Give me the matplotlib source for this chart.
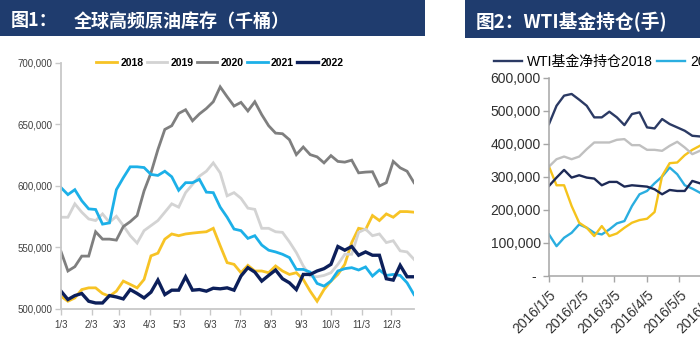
import numpy as np
import pandas as pd
import matplotlib
matplotlib.use('Agg')
import matplotlib.pyplot as plt
from matplotlib.patches import Rectangle
from matplotlib.ticker import FuncFormatter

plt.rcParams['font.family'] = ['Liberation Sans', 'Noto Sans CJK SC', 'DejaVu Sans']

# ---------------- Figure 1: global high-frequency crude stocks (kbbl) ----------------
weeks = pd.date_range('2022-01-03', periods=52, freq='7D')
stock_labels = ['2018', '2019', '2020', '2021', '2022']
stock_2018 = [510400, 506300, 509000, 515800, 517200, 517200, 512600, 510400, 514500, 522700,
              520000, 517200, 524000, 543200, 545400, 556800, 561000, 559600, 561000, 561700,
              562300, 562800, 565600, 551400, 537700, 536300, 529500, 535500, 530900, 530900,
              529500, 535000, 530900, 528100, 529500, 524000, 514500, 506300, 515800, 522700,
              528100, 536300, 554000, 565600, 564500, 576000, 571900, 577300, 574600, 579200,
              579200, 578700]
stock_2019 = [574600, 574600, 585500, 578700, 573200, 571900, 577300, 570500, 575400, 567800,
              559600, 553600, 563700, 567800, 571900, 578700, 585500, 582800, 594600, 601300,
              608000, 612000, 618800, 610700, 592000, 594600, 590000, 582000, 581000, 565600,
              565600, 562800, 562300, 554600, 545900, 535000, 526800, 526200, 527300, 529500,
              536300, 544500, 544500, 562300, 565000, 559600, 561000, 554000, 555500, 547300,
              546400, 540400]
stock_2020 = [546700, 530900, 534400, 543000, 543000, 562800, 556800, 556800, 556000, 567000,
              571000, 576000, 596000, 610700, 629600, 646000, 649000, 659000, 662000, 653000,
              658600, 663000, 668500, 680600, 672600, 665000, 668000, 661000, 668500, 658000,
              649000, 643000, 642500, 637600, 625500, 631700, 625500, 623700, 618800, 624700,
              620000, 619400, 621000, 610700, 611300, 611600, 600000, 602700, 620000, 614800,
              612000, 602700]
stock_2021 = [598700, 593000, 597000, 588000, 581400, 580900, 569000, 570000, 597000, 606700,
              615600, 615600, 615000, 609400, 608600, 612000, 607500, 596500, 602700, 602700,
              605400, 595000, 594600, 582800, 574600, 565000, 563700, 557400, 559600, 552000,
              547800, 546400, 544500, 541800, 532200, 532200, 530000, 520800, 518600, 522700,
              530900, 532800, 533600, 531700, 534200, 526800, 531700, 527300, 528100, 527300,
              521300, 511700]
stock_2022 = [514500, 507700, 510900, 512600, 506300, 504900, 504900, 510900, 509800, 508200,
              515800, 512600, 509000, 513700, 523500, 511700, 515300, 515300, 526200, 515300,
              515800, 514500, 516900, 516400, 517200, 515300, 526800, 533600, 530000, 522700,
              527300, 531700, 524600, 521300, 515800, 528100, 528100, 530900, 532800, 536300,
              550800, 547800, 550800, 543700, 546400, 543700, 543700, 524600, 523500, 535500,
              526200, 526200]
stock_ticks = pd.date_range('2022-01-01', periods=12, freq='MS') + pd.Timedelta(days=2)
stock_tick_labels = ['1/3', '2/3', '3/3', '4/3', '5/3', '6/3', '7/3', '8/3', '9/3', '10/3',
                     '11/3', '12/3']

# ---------------- Figure 2: WTI fund positions (lots) ----------------
cftc_weeks = pd.date_range('2016-01-05', periods=21, freq='7D')
fund_labels = ['WTI基金净持仓2018', '2019', '2020', '2021', '2022']
fund_2018 = [459500, 515000, 545600, 550700, 533500, 515000, 479800, 479800, 497000, 479800,
             456400, 489900, 495000, 449400, 446300, 474700, 459500, 449400, 439200, 424000,
             422000]
fund_2019 = [125000, 89500, 115000, 130000, 155400, 145300, 130000, 125000, 140200, 158500,
             165600, 211200, 246700, 256800, 280100, 300400, 327800, 307500, 274000, 263900,
             251700]
fund_2020 = [330800, 274000, 274000, 211200, 160500, 145300, 120000, 150400, 120000, 128000,
             145300, 160500, 168600, 172600, 193000, 302400, 341000, 343000, 365200, 381400,
             393600]
fund_2021 = [330800, 353000, 361000, 353000, 361000, 383500, 403700, 403700, 403700, 411800,
             413900, 395600, 395600, 381400, 381400, 378400, 393600, 405800, 388500, 368300,
             378400]
fund_2022 = [272000, 297300, 320600, 297300, 304400, 297300, 294300, 274000, 284200, 284200,
             269900, 274000, 272000, 269900, 261800, 246700, 259800, 256800, 256800, 287200,
             280100]
fund_ticks = pd.date_range('2016-01-01', periods=12, freq='MS') + pd.Timedelta(days=4)

W, H = 700, 350
fig = plt.figure(figsize=(7, 3.5), dpi=100)
fig.patch.set_facecolor('white')


def fx(px):
    return px / W


def fy(py):
    return 1 - py / H


# title bars
bar_col = '#1f3c6e'
fig.patches.append(Rectangle((0, fy(36)), fx(425), 36 / H, transform=fig.transFigure,
                             facecolor=bar_col, edgecolor='none', zorder=0))
fig.patches.append(Rectangle((fx(465), fy(38)), fx(235), 38 / H, transform=fig.transFigure,
                             facecolor=bar_col, edgecolor='none', zorder=0))
fig.text(fx(11), fy(21), '图1：', color='white', fontsize=13, fontweight='bold',
         family=['Noto Sans CJK SC'], va='center', ha='left')
fig.text(fx(74), fy(21), '全球高频原油库存（千桶）', color='white', fontsize=13,
         fontweight='bold', family=['Noto Sans CJK SC'], va='center', ha='left')
fig.text(fx(476), fy(22), '图2：WTI基金持仓(手)', color='white', fontsize=13.5,
         fontweight='bold', family=['Noto Sans CJK SC'], va='center', ha='left')

# ---------------- left panel ----------------
ax1 = fig.add_axes([fx(61), fy(309), fx(414 - 61), (309 - 63) / H])
stock_colors = ['#f7c325', '#d3d3d3', '#7f7f7f', '#1cb0e8', '#0c1f5a']
stock_series = [stock_2018, stock_2019, stock_2020, stock_2021, stock_2022]
for vals, lab, col in zip(stock_series, stock_labels, stock_colors):
    lw = 2.4 if lab == '2022' else 2.0
    ax1.plot(weeks, vals, color=col, lw=lw, label=lab, solid_joinstyle='miter')

ax1.set_xlim(weeks[0], weeks[-1])
ax1.set_ylim(500000, 700000)
ax1.set_yticks(np.arange(500000, 700001, 50000))
ax1.yaxis.set_major_formatter(FuncFormatter(lambda v, p: f'{v:,.0f}'))
ax1.set_xticks(stock_ticks)
ax1.set_xticklabels(stock_tick_labels)
for s in ['top', 'right']:
    ax1.spines[s].set_visible(False)
for s in ['left', 'bottom']:
    ax1.spines[s].set_color('#c8c8c8')
    ax1.spines[s].set_linewidth(1.3)
ax1.tick_params(axis='both', direction='out', length=4, width=1, color='#c8c8c8',
                labelsize=7, labelcolor='#404040', pad=2)
ax1.tick_params(axis='x', pad=4)
leg1 = ax1.legend(loc='center', bbox_to_anchor=(fx(220), fy(63)),
                  bbox_transform=fig.transFigure, ncol=5, frameon=False,
                  prop={'family': 'Liberation Sans', 'weight': 'bold', 'size': 7.5},
                  handlelength=2.0, handletextpad=0.3, columnspacing=0.3, borderpad=0)

# ---------------- right panel ----------------
day_px = 33.4 / 31
ax2 = fig.add_axes([fx(549), fy(275.7), fx(366 * day_px), (275.7 - 77.7) / H])
fund_colors = ['#2b3a64', '#2aaee0', '#f5c31c', '#c0c0c0', '#1d2a56']
fund_series = [fund_2018, fund_2019, fund_2020, fund_2021, fund_2022]
for vals, lab, col in zip(fund_series, fund_labels, fund_colors):
    ax2.plot(cftc_weeks, vals, color=col, lw=1.7, label=lab)
ax2.set_xlim(pd.Timestamp('2016-01-05'), pd.Timestamp('2017-01-05'))
ax2.set_ylim(0, 600000)
ax2.set_yticks(np.arange(0, 600001, 100000))
ax2.yaxis.set_major_formatter(FuncFormatter(lambda v, p: f'{v:,.0f}' if v else '- '))
ax2.set_xticks(fund_ticks)
ax2.set_xticklabels([f'{d.year}/{d.month}/{d.day}' for d in fund_ticks],
                    rotation=45, ha='right', rotation_mode='anchor')
for s in ['top', 'right']:
    ax2.spines[s].set_visible(False)
for s in ['left', 'bottom']:
    ax2.spines[s].set_color('#a6a6a6')
    ax2.spines[s].set_linewidth(1.1)
ax2.tick_params(axis='both', direction='out', length=4, width=1, color='#a6a6a6',
                labelsize=10, labelcolor='#303030', pad=2)
ax2.tick_params(axis='x', pad=5)
fig.legend(*ax2.get_legend_handles_labels(), loc='center left',
           bbox_to_anchor=(fx(487), fy(62)), ncol=5, frameon=False,
           prop={'family': ['Liberation Sans', 'Noto Sans CJK SC'], 'size': 10},
           handlelength=2.0, handletextpad=0.35, columnspacing=0.35, borderpad=0)

fig.savefig('out.png', dpi=100)
